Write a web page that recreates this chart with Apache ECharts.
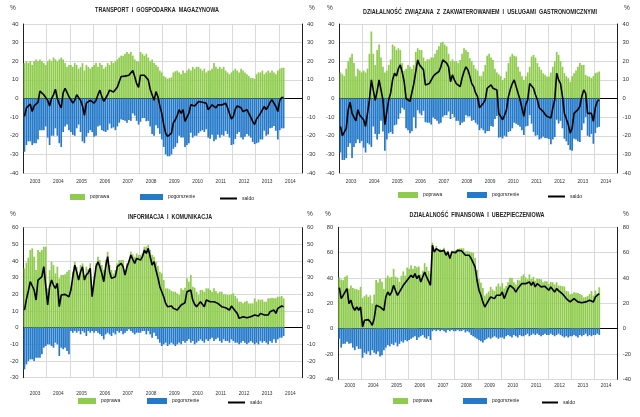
<!DOCTYPE html>
<html><head><meta charset="utf-8">
<script src="https://cdn.jsdelivr.net/npm/echarts/dist/echarts.min.js"></script>
<style>html,body{margin:0;padding:0;background:#fff}#c{width:640px;height:417px}</style>
</head><body><div id="c"></div>
<script>
// ---------- DATA (monthly, Jan 2003 - Mar 2014) ----------
const years = ['2003','2004','2005','2006','2007','2008','2009','2010','2011','2012','2013','2014'];
const seriesNames = ['poprawa','pogorszenie','saldo'];
const titles = [
  'TRANSPORT  I  GOSPODARKA  MAGAZYNOWA',
  'DZIAŁALNOŚĆ  ZWIĄZANA  Z  ZAKWATEROWANIEM  I  USŁUGAMI  GASTRONOMICZNYMI',
  'INFORMACJA  I  KOMUNIKACJA',
  'DZIAŁALNOŚĆ  FINANSOWA  I  UBEZPIECZENIOWA'
];

const transportPoprawa = [
19,20,19,20,18,20,21,20,21,20,19,18,
20,21,20,22,21,20,21,22,21,19,17,18,
18,17,19,18,16,17,19,15,18,17,16,17,
18,19,17,19,18,16,17,19,18,20,19,20,
21,22,23,23,24,25,24,25,23,21,20,20,
25,24,23,24,22,20,21,19,18,17,15,14,
12,11.4,10.6,11,11.4,14,14.6,15,14,13,15,13.7,
15,16,15,17,16,17,17,16,15,16,14,15,
15,16,19,17,16,17,16,17,15,14,13,14,
15,16,15,14,16,15,14,13,12,11,11,10.5,
13,14,14,15,13,14,15,14,15,14,13,15,
16,16.5,16.5];
const transportPogorszenie = [
-28.6,-25,-23,-23,-25,-24,-24,-22,-17,-17,-17,-15,
-21,-25,-20,-20,-16,-20,-24,-26,-18,-15,-14,-17,
-18,-19.5,-20,-16,-14,-18,-23,-24,-20.5,-18.5,-17,-18,
-20.5,-20,-15,-14.5,-17,-17.5,-18,-17,-13.5,-16,-15.5,-17,
-15,-13,-11.2,-11.5,-12,-13,-11.5,-12,-8,-9.2,-12,-14,
-12.5,-10.5,-10.5,-12.2,-12,-15,-19,-20,-14.3,-16,-19,-22,
-26,-30,-31,-31,-30,-27,-26,-24,-20,-21,-21,-26,
-25,-24,-18.4,-21,-20,-20,-18.6,-17.6,-17,-18,-16.5,-21,
-21.6,-19.4,-23,-22,-19.4,-21,-19.5,-20,-17.5,-19,-21,-25,
-24.6,-21.7,-19,-18,-21,-22,-20.5,-19,-20,-21,-23.3,-24.5,
-24,-23.6,-22,-22,-17.3,-20,-19.3,-16,-15.7,-14.7,-17.3,-22,
-17,-16,-16];
const transportSaldo = [
-9.6,-5,-4,-3,-7,-4,-3,-2,4,3,2,3,
-1,-4,0,2,5,0,-3,-5,3,5.5,4.5,1,
0,-2.5,-1,2,2,-1,-4,-9,-2.5,-1.5,-1,-1,
-2.5,-1,2,4.5,1,-1.5,-1,2,4.5,4,3.5,3,
6,9,11.8,11.5,12,12,12.5,13,15,11.8,8,6,
12.5,13.5,12.5,11.8,10,5,2,-1,3.7,1,-4,-8,
-14,-18.6,-20.4,-20,-18.6,-13,-11.4,-9,-6,-8,-6,-12.3,
-10,-8,-3.4,-4,-4,-3,-1.6,-1.6,-2,-2,-2.5,-6,
-6.6,-3.4,-4,-5,-3.4,-4,-3.5,-3,-2.5,-5,-8,-11,
-9.6,-5.7,-4,-4,-5,-7,-6.5,-6,-8,-10,-12.3,-14,
-11,-9.6,-8,-7,-4.3,-6,-4.3,-2,-0.7,-0.7,-4.3,-7,
-1,0.5,0.5];

const hotelPoprawa = [
14,13,12,16,20,22,24,19,12,16,15,14,
15,14,16,24,36,24,18,26,29,22,17,14,
15,18,21,29,28,26,27,26,19,15,16,18,
17,16,18,25,27,26,26,22,20,21,21,22,
22,24,26,28,30,30.5,29,28,24,20,21,20,
20,19,20.7,24,27,26,25,21.6,20,18,16,15,
12,12,14.5,18,23,24,22,20.7,16,14,13,12,
10,11,14.5,19,22.5,24,23,22.5,17,14.5,12,10,
12,14,17,22.5,23.4,22,19,17,15.4,13.5,12.7,11.8,
11.8,14,17,20,25,23.4,20,17,13.6,12,11,9,
12,13.6,15,17,19,18,18,12.7,12,11.8,11,12,
13.6,14,14.5];
const hotelPogorszenie = [
-29,-33,-33,-32,-26,-24,-32,-26,-24,-22,-24,-22.8,
-26.4,-29,-24,-24.7,-26,-15,-19,-22,-19,-12,-17.7,-28,
-22,-18.7,-18,-19,-14.4,-14,-11,-8,-5,-6,-16,-17,
-18.6,-17.6,-10,-16,-6.3,-8,-9,-6.6,-12.7,-13,-13,-14,
-10.2,-11,-12,-13.5,-13,-9.8,-9,-9,-7,-11,-8.3,-10,
-12,-12,-14.3,-13,-12.5,-9,-9.6,-9.6,-12,-11.6,-13,-14,
-17,-16,-17,-18.7,-17.5,-17.5,-14.7,-15.2,-11,-9.4,-21,-20.8,
-21.4,-20,-20.5,-18,-17.5,-16,-13,-13.5,-14.2,-15.2,-17,-19.6,
-15,-14.7,-9,-13.5,-17.9,-20,-19.7,-22,-21.4,-20.5,-21.2,-21.4,
-21.8,-24.5,-22,-20.7,-11.4,-13.4,-12,-16,-21.6,-23,-25,-27.6,
-28,-21.6,-22,-23,-23.3,-17,-13.4,-9.9,-20,-20.6,-19,-24.3,
-18.6,-15.6,-15.2];
const hotelSaldo = [
-15,-20,-21,-16,-6,-2,-8,-7,-12,-6,-9,-8.8,
-11.4,-15,-8,-0.7,10,9,-1,4,10,10,-0.7,-14,
-7,-0.7,3,10,13.6,12,16,18,14,9,0,1,
-1.6,-1.6,8,9,20.7,18,17,15.4,7.3,8,8,8,
11.8,13,14,14.5,17,20.7,20,19,17,9,12.7,10,
8,7,6.4,11,14.5,17,15.4,12,8,6.4,3,1,
-5,-4,-2.5,-0.7,5.5,6.5,7.3,5.5,5,4.6,-8,-8.8,
-11.4,-9,-6,1,5,8,10,9,2.8,-0.7,-5,-9.6,
-3,-0.7,8,9,5.5,2,-0.7,-5,-6,-7,-8.5,-9.6,
-10,-10.5,-5,-0.7,13.6,10,8,1,-8,-11,-14,-18.6,
-16,-8,-7,-6,-4.3,1,4.6,2.8,-8,-8.8,-8,-12.3,
-5,-1.6,-0.7];

const infoPoprawa = [
35.6,39,42,46.6,47.6,42.6,34.6,46.6,45.6,46.6,48.6,48.6,
23.6,34.6,39.6,37.6,32.6,36.6,29.6,31.6,31.6,32,33.6,34.6,
24.6,33.6,39.6,36.6,30.6,37.6,38.6,31.6,36.6,35,38.6,20.6,
31,38.6,42.6,40.6,37.6,34.6,40.6,45.6,37.6,34.6,32.6,34.6,
38.6,40.6,40.6,40.6,34.6,38.6,40.6,45.6,44,42.6,44.6,43.6,
43.6,44.6,48.6,48.6,49.6,46.6,43.6,42.6,39.6,37,33.6,32.6,
28.6,23.6,23.6,23,22,21.6,21.6,20.6,19.6,23.6,22.6,24,
29.6,27.6,31.6,24.6,24,21.6,19.6,22.6,22.6,21.6,23.6,23.6,
22.6,21.6,23.6,22,20.6,21.6,21.6,20,20,19.6,19.6,20,
20.6,19,17.6,15.6,15.6,14.6,15.6,16,14.6,14.6,14.6,17.6,
15.6,17,16.6,17,15.6,15.6,17.6,17.6,18,17.6,17.6,18.6,
18.6,19,17.6];
const infoPogorszenie = [
-25,-22,-20,-19,-19,-20,-18,-18,-18,-16,-12,-11,
-10,-10,-11,-12,-9,-10,-17,-12,-13,-12,-14,-16,
-2,-3,-2,-3,-2,-4,-2,-3,-5,-2,-3,-2,
-3,-2,-3,-4,-5,-7,-4,-3,-4,-5,-3,-4,
-2,-3,-2,-4,-3,-2,-1,-2,-3,-4,-3,-3,
-3,-2,-2,-4,-2,-4,-6,-3,-5,-7,-9,-11,
-10,-9,-11,-10,-9,-10,-11,-10,-9,-10,-8,-9,
-8,-7,-9,-8,-10,-9,-8,-7,-8,-9,-7,-8,
-7,-6,-8,-7,-6,-8,-9,-7,-8,-8,-9,-7,
-8,-9,-9,-10,-9,-8,-9,-10,-9,-8,-9,-10,
-9,-10,-8,-9,-8,-9,-10,-8,-9,-7,-9,-7,
-6,-6,-5];
const infoSaldo = [
10.6,17,22,27.6,28.6,22.6,16.6,28.6,27.6,30.6,36.6,37.6,
13.6,24.6,28.6,25.6,23.6,26.6,12.6,19.6,18.6,20,19.6,18.6,
22.6,30.6,37.6,33.6,28.6,33.6,36.6,28.6,31.6,33,35.6,18.6,
28,36.6,39.6,36.6,32.6,27.6,36.6,42.6,33.6,29.6,29.6,30.6,
36.6,37.6,38.6,36.6,31.6,36.6,39.6,43.6,41,38.6,41.6,40.6,
40.6,42.6,46.6,44.6,47.6,42.6,37.6,39.6,34.6,30,24.6,21.6,
18.6,14.6,12.6,13,13,11.6,10.6,10.6,10.6,13.6,14.6,15,
21.6,20.6,22.6,16.6,14,12.6,11.6,15.6,14.6,12.6,16.6,15.6,
15.6,15.6,15.6,15,14.6,13.6,12.6,13,12,11.6,10.6,13,
12.6,10,8.6,5.6,6.6,6.6,6.6,6,5.6,6.6,5.6,7.6,
6.6,7,8.6,8,7.6,6.6,7.6,9.6,9,10.6,8.6,11.6,
12.6,13,12.6];

const financePoprawa = [
40.4,38.7,38.3,41,42,31.7,34,32.1,31.5,31.1,30.5,33,
24.3,25.6,27,25.1,26.3,19.6,26.9,38.4,36.4,39.1,37,31.5,
40,41.9,40.3,40.9,47.2,41,40.3,37,41.6,45.2,41.9,48.2,
47.2,50.1,47.3,49.4,48.5,49.1,42.8,45.8,51.7,48.8,45.5,43.2,
67.8,61.5,65.2,62.8,63,61.5,63.8,60.9,61.5,57.3,61.5,61.2,
62,62.8,63.3,63.5,63.4,60.9,61.2,60.9,60.3,59.9,55.7,46.2,
39.3,36.3,32.1,26.1,27.7,29.4,33,31,29.7,33.3,35.6,33.3,
35.9,31.7,33.6,36.6,40.2,40,36.6,34.9,38.6,38,41.5,42.8,
40.5,39,42.8,39.2,40.8,37.9,39.5,39.2,39,36.6,37.4,37.4,
35.3,36.9,36.6,34.9,36.6,34,33.9,33.5,33.3,29.7,29.4,27.1,
27.5,28.7,28.4,28.1,27.4,26.5,24.7,25.1,25.7,27.4,29.7,26.1,
30,27.7,32.6];
const financePogorszenie = [
-8,-15,-12,-12,-10.4,-12,-11.6,-15,-17,-14,-16,-15.9,
-23,-19,-20,-18,-21,-17,-19,-20,-18,-22,-21,-17,
-15,-13,-14,-12,-13,-11,-14,-12,-10,-11,-9,-10,
-9,-8,-7,-6,-9,-7,-6,-5,-7,-8,-6,-9,
-2,-1,-2,-1,-2,-1,-2,-3,-1,-2,-1,-2,
-2,-1,-2,-2,-1,-3,-2,-3,-5,-6,-7,-8,
-9,-10,-11,-9,-8,-7,-8,-7,-6,-7,-8,-7,
-7,-8,-6,-5,-6,-7,-5,-6,-7,-5,-6,-6,
-5,-4,-6,-5,-4,-5,-4,-5,-6,-5,-4,-5,
-5,-4,-5,-6,-5,-4,-5,-6,-7,-6,-7,-6,
-6,-5,-6,-7,-5,-6,-5,-4,-6,-5,-6,-5,
-5,-4,-5];
const financeSaldo = [
32.4,23.7,26.3,29,31.6,19.7,22.4,17.1,14.5,17.1,14.5,17.1,
1.3,6.6,7,7.1,5.3,2.6,7.9,18.4,18.4,17.1,16,14.5,
25,28.9,26.3,28.9,34.2,30,26.3,25,31.6,34.2,32.9,38.2,
38.2,42.1,40.3,43.4,39.5,42.1,36.8,40.8,44.7,40.8,39.5,34.2,
65.8,60.5,63.2,61.8,61,60.5,61.8,57.9,60.5,55.3,60.5,59.2,
60,61.8,61.3,61.5,62.4,57.9,59.2,57.9,55.3,53.9,48.7,38.2,
30.3,26.3,21.1,17.1,19.7,22.4,25,24,23.7,26.3,27.6,26.3,
28.9,23.7,27.6,31.6,34.2,33,31.6,28.9,31.6,33,35.5,36.8,
35.5,35,36.8,34.2,36.8,32.9,35.5,34.2,33,31.6,33.4,32.4,
30.3,32.9,31.6,28.9,31.6,30,28.9,27.5,26.3,23.7,22.4,21.1,
21.5,23.7,22.4,21.1,22.4,20.5,19.7,21.1,19.7,22.4,23.7,21.1,
25,23.7,27.6];

// ---------- LAYOUT ----------
const months = [];
years.forEach(y => { for (let m = 1; m <= 12; m++) months.push(y + '-' + (m < 10 ? '0' : '') + m); });

const panelSeries = [
  [transportPoprawa, transportPogorszenie, transportSaldo],
  [hotelPoprawa, hotelPogorszenie, hotelSaldo],
  [infoPoprawa, infoPogorszenie, infoSaldo],
  [financePoprawa, financePogorszenie, financeSaldo]
];
const layout = [
  {grid:{left:23.5,top:24,width:278.5,height:149}, min:-40,max:40,step:10, title:[157,10], pctL:[13,8], pctR:[312,8], xMargin:6, legendY:194, legendX:[70,140,220], legendW:[15,23,17]},
  {grid:{left:339.5,top:24,width:278,height:149}, min:-40,max:40,step:10, title:[480,12], pctL:[330,8], pctR:[627,8], xMargin:6, legendY:192, legendX:[398,467,548], legendW:[20,20,17]},
  {grid:{left:23.5,top:227.7,width:278.5,height:150}, min:-30,max:60,step:10, title:[170,216.7], pctL:[13,214], pctR:[310,214], xMargin:13, legendY:398, legendX:[78,147,228], legendW:[18,20,17]},
  {grid:{left:338.3,top:227.3,width:279.4,height:152}, min:-40,max:80,step:20, title:[477,215], pctL:[328,214], pctR:[626,214], xMargin:4, legendY:398, legendX:[393,463,542], legendW:[15,24,16]}
];

const GREEN = '#8FCC4E', BLUE = '#2479C9', TXT = '#333', GRID = '#D9D9D9';
const FONT = 'Liberation Sans';

const option = {
  animation: false,
  backgroundColor: '#fff',
  grid: [], xAxis: [], yAxis: [], series: [], legend: [], graphic: []
};

layout.forEach((L, p) => {
  option.grid.push(Object.assign({containLabel:false}, L.grid));
  option.xAxis.push({
    type:'category', gridIndex:p, data:months, boundaryGap:true,
    axisLine:{show:true, onZero:true, lineStyle:{color:'#000', width:1}},
    axisTick:{show:false}, axisLabel:{show:false}, splitLine:{show:false}
  });
  option.xAxis.push({
    type:'category', gridIndex:p, data:years, boundaryGap:true, position:'bottom',
    axisLine:{show:false, onZero:false}, axisTick:{show:false},
    axisLabel:{fontSize:4.8, color:TXT, margin:L.xMargin, fontFamily:FONT},
    splitLine:{show:true, lineStyle:{color:GRID, width:1}}
  });
  ['left','right'].forEach((pos, k) => {
    option.yAxis.push({
      type:'value', gridIndex:p, position:pos, min:L.min, max:L.max, interval:L.step,
      axisLine:{show:true, lineStyle:{color:'#222', width:1}},
      axisTick:{show:false},
      axisLabel:{fontSize:5.8, color:TXT, margin:5, fontFamily:FONT},
      splitLine:{show:k === 0, lineStyle:{color:GRID, width:1}}
    });
  });
  const d = panelSeries[p];
  option.series.push({
    name:seriesNames[0], type:'bar', xAxisIndex:2*p, yAxisIndex:2*p, data:d[0],
    itemStyle:{color:GREEN}, barCategoryGap:'12%', barGap:'-100%', z:2
  });
  option.series.push({
    name:seriesNames[1], type:'bar', xAxisIndex:2*p, yAxisIndex:2*p, data:d[1],
    itemStyle:{color:BLUE}, barCategoryGap:'12%', barGap:'-100%', z:2
  });
  option.series.push({
    name:seriesNames[2], type:'line', xAxisIndex:2*p, yAxisIndex:2*p, data:d[2],
    symbol:'none', lineStyle:{color:'#000', width:1.6}, itemStyle:{color:'#000'}, z:5
  });
  seriesNames.forEach((n, k) => {
    option.legend.push({
      data:[n], left:L.legendX[k], top:k === 2 ? L.legendY + 2 : L.legendY, padding:0, selectedMode:false,
      itemWidth:L.legendW[k], itemHeight:k === 2 ? 2 : 6, icon:'rect',
      textStyle:{fontSize:5, color:'#222', fontFamily:FONT}
    });
  });
  option.graphic.push({type:'text', x:L.title[0], y:L.title[1], scaleX:0.82,
    style:{text:titles[p], fill:'#222', align:'center', verticalAlign:'middle', font:'bold 6.6px "' + FONT + '"'}});
  option.graphic.push({type:'text', x:L.pctL[0], y:L.pctL[1],
    style:{text:'%', fill:TXT, align:'center', verticalAlign:'middle', font:'6.5px "' + FONT + '"'}});
  option.graphic.push({type:'text', x:L.pctR[0], y:L.pctR[1],
    style:{text:'%', fill:TXT, align:'center', verticalAlign:'middle', font:'6.5px "' + FONT + '"'}});
});

const chart = echarts.init(document.getElementById('c'), null, {renderer:'canvas'});
chart.setOption(option);
</script></body></html>
